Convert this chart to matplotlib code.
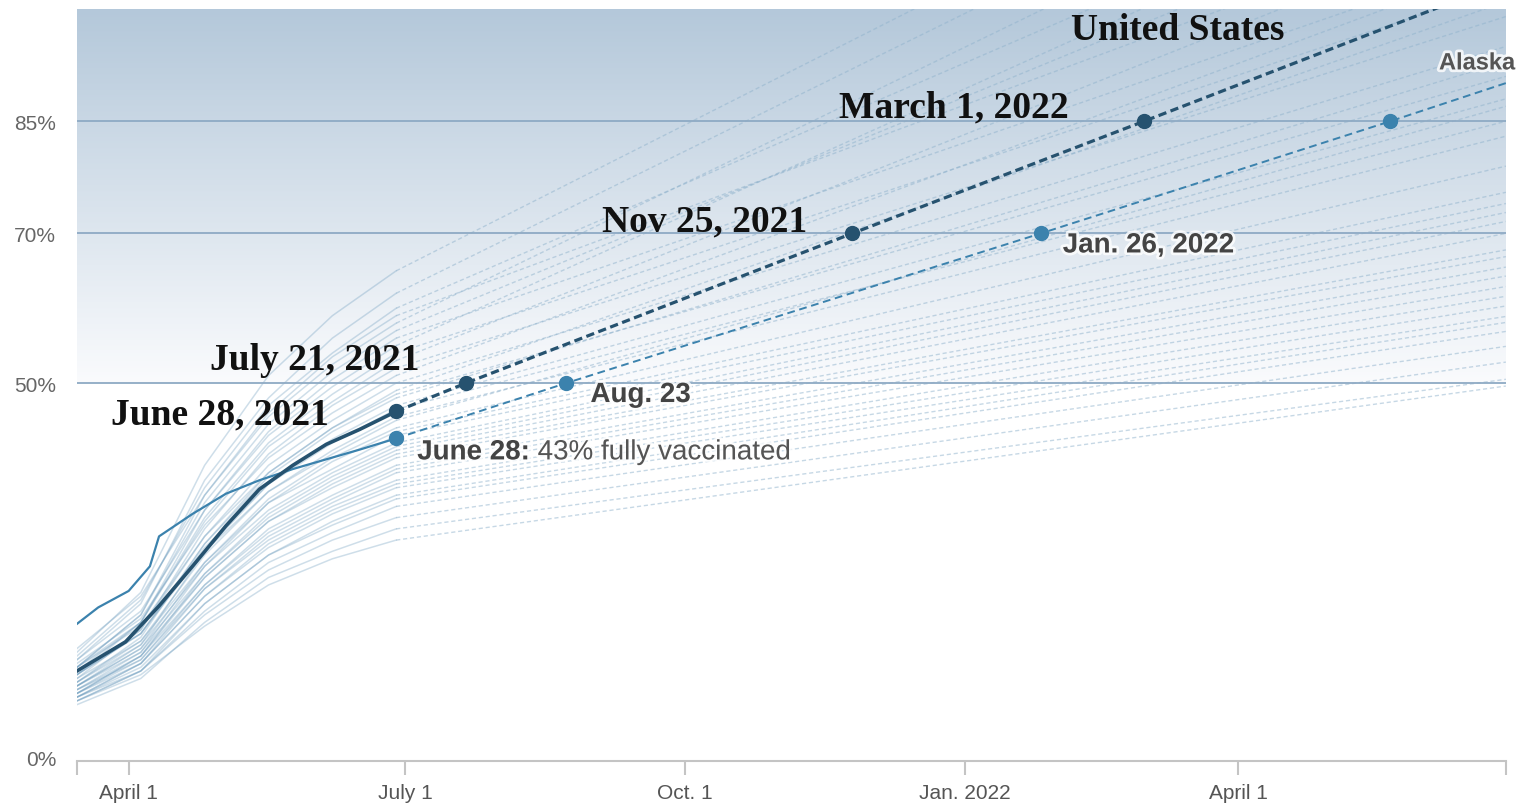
import numpy as np
import pandas as pd
from matplotlib import pyplot as plt
import matplotlib.dates as mdates
import matplotlib.patheffects as pe

# share of population fully vaccinated (%)
knot_dates = pd.to_datetime(['2021-03-15', '2021-04-05', '2021-04-26',
                             '2021-05-17', '2021-06-07', '2021-06-28'])
proj_end_date = pd.Timestamp('2022-06-28')

# one row per state: values at knot_dates
state_knots = [
    [14.0, 22.0, 39.0, 51.0, 59.0, 65.0],
    [13.0, 20.5, 37.0, 48.0, 56.0, 62.0],
    [13.5, 21.0, 36.0, 47.0, 54.0, 60.0],
    [12.0, 19.0, 35.0, 46.0, 53.5, 59.0],
    [14.5, 21.5, 35.0, 45.5, 52.5, 58.0],
    [12.0, 19.0, 34.0, 44.5, 51.5, 57.0],
    [11.0, 18.0, 33.0, 43.5, 50.5, 56.0],
    [13.0, 19.5, 33.0, 43.0, 49.5, 55.0],
    [11.5, 18.0, 32.0, 42.0, 48.5, 54.0],
    [12.0, 18.0, 31.5, 41.5, 47.5, 53.0],
    [10.5, 17.0, 30.5, 40.5, 47.0, 52.0],
    [12.5, 18.5, 31.0, 40.0, 46.0, 51.0],
    [11.0, 17.0, 29.5, 39.0, 45.0, 50.0],
    [10.0, 16.0, 28.5, 38.0, 44.0, 49.0],
    [12.0, 17.5, 29.5, 38.0, 44.0, 48.5],
    [11.0, 16.5, 28.5, 37.5, 43.5, 48.0],
    [9.5, 15.0, 27.5, 36.5, 42.5, 47.0],
    [11.0, 16.5, 28.0, 36.5, 42.0, 46.5],
    [10.0, 15.5, 27.0, 35.5, 41.0, 45.5],
    [11.5, 16.5, 27.5, 35.5, 40.5, 45.0],
    [9.5, 14.5, 26.0, 34.5, 40.0, 44.0],
    [9.0, 14.0, 25.5, 34.0, 39.5, 43.5],
    [10.5, 15.5, 26.0, 34.0, 38.5, 43.0],
    [10.0, 15.0, 25.5, 33.0, 38.0, 42.0],
    [8.5, 13.5, 24.5, 32.5, 37.5, 41.5],
    [9.5, 14.5, 24.5, 32.0, 37.0, 41.0],
    [8.5, 13.5, 24.0, 31.5, 36.5, 40.5],
    [9.5, 14.0, 24.0, 31.5, 36.0, 40.0],
    [8.5, 13.0, 23.0, 30.5, 35.0, 39.0],
    [9.0, 13.5, 23.0, 30.0, 34.5, 38.5],
    [8.0, 12.5, 22.5, 29.5, 34.0, 38.0],
    [9.0, 13.0, 22.5, 29.0, 33.5, 37.0],
    [8.0, 12.5, 21.5, 28.5, 33.0, 36.5],
    [8.5, 12.5, 21.5, 28.0, 32.5, 36.0],
    [7.5, 11.5, 20.5, 27.0, 31.5, 35.0],
    [8.0, 12.0, 20.5, 27.0, 31.0, 34.5],
    [7.5, 11.5, 19.5, 26.0, 30.0, 33.5],
    [8.0, 11.5, 19.0, 25.0, 29.0, 32.0],
    [7.0, 10.5, 18.0, 24.0, 27.5, 30.5],
    [7.5, 11.0, 17.5, 23.0, 26.5, 29.0],
]
# projected value at proj_end_date
state_end = [140, 135, 124, 114, 130, 118, 107, 122, 103, 112,
             99, 106, 95, 101, 91, 93, 88, 85, 83, 87,
             79, 75.5, 74, 72.8, 71.6, 70, 67.8, 66.9, 65.5, 64.3,
             62.9, 61.6, 60.3, 58.9, 58.1, 56.9, 54.9, 52.8, 50.5, 49.6]

us_dates = pd.to_datetime(['2021-03-15', '2021-03-31', '2021-04-11', '2021-04-22',
                           '2021-05-03', '2021-05-14', '2021-05-25', '2021-06-05',
                           '2021-06-16', '2021-06-28'])
us_values = [11.5, 15.4, 20.2, 25.5, 30.9, 35.8, 39.0, 41.8, 43.8, 46.2]
us_milestones = pd.to_datetime(['2021-07-21', '2021-11-25', '2022-03-01'])
us_end = 103.7

ak_dates = pd.to_datetime(['2021-03-15', '2021-03-22', '2021-04-01', '2021-04-08',
                           '2021-04-11', '2021-04-22', '2021-05-03', '2021-05-14',
                           '2021-05-25', '2021-06-05', '2021-06-16', '2021-06-28'])
ak_values = [17.8, 20.0, 22.2, 25.5, 29.5, 32.5, 35.2, 37.0, 38.5, 39.8, 41.1, 42.6]
ak_milestones = pd.to_datetime(['2021-08-23', '2022-01-26', '2022-05-21'])
ak_end = 90.1

milestone_levels = [50, 70, 85]

tick_dates = pd.to_datetime(['2021-04-01', '2021-07-01', '2021-10-01', '2022-01-01', '2022-04-01'])
tick_labels = ['April 1', 'July 1', 'Oct. 1', 'Jan. 2022', 'April 1']

US_C = '#26526f'
AK_C = '#3b82ad'
SANS = 'Liberation Sans'
SERIF = 'Liberation Serif'

fig = plt.figure(figsize=(15.36, 8.04), dpi=100)
ax = fig.add_axes([0.0501, 0.0572, 0.9303, 0.9303])
x0, x1 = pd.Timestamp('2021-03-15'), proj_end_date
ax.set_xlim(x0, x1)
ax.set_ylim(0, 100)

# background gradient above 50%
top = np.array([180, 200, 218]) / 255
bot = np.array([250, 251, 253]) / 255
t = np.linspace(1, 0, 256)[:, None]
grad = (bot + (top - bot) * t)[:, None, :]
ax.imshow(grad, extent=[mdates.date2num(x0), mdates.date2num(x1), 50, 100],
          aspect='auto', zorder=0, interpolation='bicubic')

# states
for vals, end in zip(state_knots, state_end):
    ax.plot(knot_dates, vals, color='#5f93b8', lw=1.1, alpha=0.3, zorder=1)
    ax.plot([knot_dates[-1], proj_end_date], [vals[-1], end], color='#8fb2cc',
            lw=1.0, alpha=0.5, ls=(0, (3, 2)), zorder=1)

for lvl in milestone_levels:
    ax.axhline(lvl, color='#8eaac4', lw=1.3, zorder=2)

# Alaska
ax.plot(ak_dates, ak_values, color=AK_C, lw=1.6, zorder=4)
ak_px = [ak_dates[-1]] + list(ak_milestones) + [proj_end_date]
ak_py = [ak_values[-1]] + milestone_levels + [ak_end]
ax.plot(ak_px, ak_py, color=AK_C, lw=1.4, ls=(0, (4, 2.4)), zorder=4)
ax.plot([ak_dates[-1]] + list(ak_milestones), [ak_values[-1]] + milestone_levels,
        'o', color=AK_C, ms=10, zorder=6)

# United States
ax.plot(us_dates, us_values, color=US_C, lw=2.6, zorder=5)
us_px = [us_dates[-1]] + list(us_milestones) + [proj_end_date]
us_py = [us_values[-1]] + milestone_levels + [us_end]
ax.plot(us_px, us_py, color=US_C, lw=2.3, ls=(0, (2.6, 1.4)), zorder=5)
ax.plot([us_dates[-1]] + list(us_milestones), [us_values[-1]] + milestone_levels,
        'o', color=US_C, ms=10, zorder=6)

# labels
halo = [pe.withStroke(linewidth=4, foreground='white', alpha=0.8)]
serif_kw = dict(textcoords='offset pixels', ha='right', va='center', fontsize=27,
                fontweight='bold', family=SERIF, color='#111111', zorder=7)
ax.annotate('June 28, 2021', (us_dates[-1], us_values[-1]), xytext=(-67, -3), **serif_kw)
ax.annotate('July 21, 2021', (us_milestones[0], 50), xytext=(-47, 24), **serif_kw)
ax.annotate('Nov 25, 2021', (us_milestones[1], 70), xytext=(-45, 12), **serif_kw)
ax.annotate('March 1, 2022', (us_milestones[2], 85), xytext=(-75, 14), **serif_kw)
ax.text(pd.Timestamp('2022-03-12'), 97.3, 'United States', ha='center', va='center',
        fontsize=27, fontweight='bold', family=SERIF, color='#111111', zorder=7)

sans_kw = dict(textcoords='offset pixels', ha='left', va='center', fontsize=20,
               fontweight='bold', family=SANS, color='#444444', zorder=7,
               path_effects=halo)
ax.annotate('Aug. 23', (ak_milestones[0], 50), xytext=(24, -12), **sans_kw)
ax.annotate('Jan. 26, 2022', (ak_milestones[1], 70), xytext=(22, -12), **sans_kw)
t1 = ax.annotate('June 28:', (ak_dates[-1], ak_values[-1]), xytext=(21, -14), **sans_kw)
ax.annotate(' 43% fully vaccinated', xy=(1, 0), xycoords=t1, ha='left', va='bottom',
            fontsize=20, family=SANS, color='#555555', zorder=7, path_effects=halo)
ax.text(pd.Timestamp('2022-06-06'), 92.8, 'Alaska', ha='left', va='center', fontsize=17,
        fontweight='bold', family=SANS, color='#555555', zorder=7, clip_on=False,
        path_effects=halo)

# axes styling
for s in ['left', 'right', 'top']:
    ax.spines[s].set_visible(False)
ax.spines['bottom'].set_color('#c4c4c4')
ax.spines['bottom'].set_linewidth(1.5)
ax.spines['bottom'].set_position(('outward', 3))
ax.set_xticks(tick_dates)
ax.set_xticklabels(tick_labels, family=SANS, fontsize=15, color='#555555')
ax.set_xticks([x0, x1], minor=True)
ax.tick_params(axis='x', which='both', length=10, width=1.5, color='#c4c4c4', pad=6)
ax.set_yticks([0] + milestone_levels)
ax.set_yticklabels(['0%', '50%', '70%', '85%'], family=SANS, fontsize=15, color='#666666')
ax.tick_params(axis='y', length=0, pad=15)

fig.savefig('out.png', dpi=100)
